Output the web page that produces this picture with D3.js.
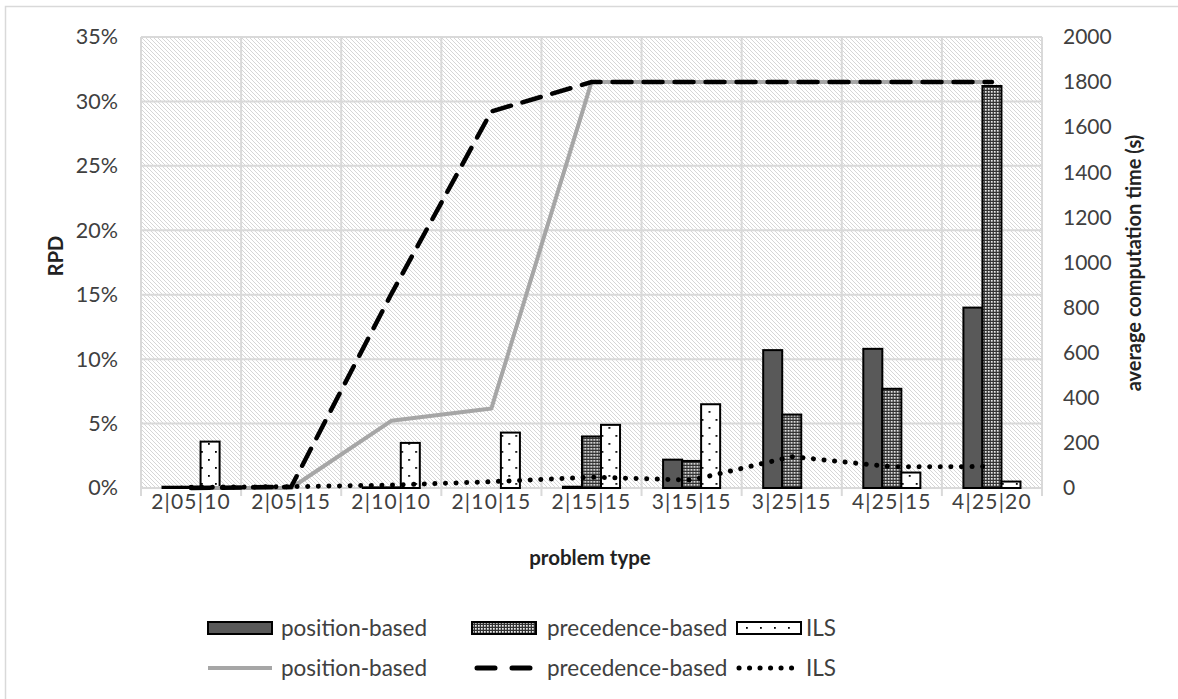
<!DOCTYPE html>
<html>
<head>
<meta charset="utf-8">
<script src="https://cdn.jsdelivr.net/npm/d3@7"></script>
<style>
  html, body { margin: 0; padding: 0; background: #fff; }
  svg { display: block; }
  text { font-family: Lato, "Open Sans", sans-serif; }
</style>
</head>
<body>
<svg id="chart" width="1178" height="699"></svg>
<script>
// ---- data ----
const categories = ["2|05|10", "2|05|15", "2|10|10", "2|10|15", "2|15|15", "3|15|15", "3|25|15", "4|25|15", "4|25|20"];
const barSeries = ["position-based", "precedence-based", "ILS"];
// RPD (%) bars
const rpdPosition   = [0.1, 0, 0.05, 0, 0.1, 2.2, 10.7, 10.8, 14.0];
const rpdPrecedence = [0.1, 0, 0.05, 0, 4.0, 2.1, 5.7, 7.7, 31.2];
const rpdILS        = [3.6, 0, 3.5, 4.3, 4.9, 6.5, 0, 1.2, 0.5];
// average computation time (s) lines
const timePosition   = [0, 0, 298, 353, 1800, 1800, 1800, 1800, 1800];
const timePrecedence = [0, 5, 860, 1670, 1800, 1800, 1800, 1800, 1800];
const timeILS        = [3, 6, 13, 28, 48, 35, 139, 94, 95];
// ticks
const leftTicks  = [0, 5, 10, 15, 20, 25, 30, 35];
const rightTicks = [0, 200, 400, 600, 800, 1000, 1200, 1400, 1600, 1800, 2000];

// ---- layout ----
const svg = d3.select("#chart");
const plot = { left: 141, right: 1042, top: 37, bottom: 488 };

const x = d3.scaleBand().domain(categories).range([plot.left, plot.right]).padding(0);
const bw = x.bandwidth();
const x1 = d3.scaleBand().domain(barSeries).range([bw * 0.215, bw * 0.785]).padding(0);
const yL = d3.scaleLinear().domain([0, 35]).range([plot.bottom, plot.top]);
const yR = d3.scaleLinear().domain([0, 2000]).range([plot.bottom, plot.top]);

// ---- patterns ----
const defs = svg.append("defs");
const hatch = defs.append("pattern").attr("id", "hatch").attr("patternUnits", "userSpaceOnUse")
  .attr("width", 4).attr("height", 4);
hatch.append("rect").attr("width", 4).attr("height", 4).attr("fill", "#fff");
hatch.append("path").attr("d", "M-1,-1 L5,5 M-1,3 L1,5 M3,-1 L5,1")
  .attr("stroke", "#d6d6d6").attr("stroke-width", 1);

const mesh = defs.append("pattern").attr("id", "mesh").attr("patternUnits", "userSpaceOnUse")
  .attr("width", 3).attr("height", 3);
mesh.append("rect").attr("width", 3).attr("height", 3).attr("fill", "#333");
mesh.append("rect").attr("x", 1).attr("y", 1).attr("width", 1.7).attr("height", 1.7).attr("fill", "#eee");

const dots = defs.append("pattern").attr("id", "dots").attr("patternUnits", "userSpaceOnUse")
  .attr("width", 14).attr("height", 16);
dots.append("rect").attr("width", 14).attr("height", 16).attr("fill", "#fff");
dots.append("rect").attr("x", 4).attr("y", 3).attr("width", 1.8).attr("height", 1.8).attr("fill", "#000");
dots.append("rect").attr("x", 11).attr("y", 11).attr("width", 1.8).attr("height", 1.8).attr("fill", "#000");

const fills = { "position-based": "#595959", "precedence-based": "url(#mesh)", "ILS": "url(#dots)" };

// ---- outer border ----
svg.append("rect").attr("x", 5.5).attr("y", 6.5).attr("width", 1200).attr("height", 720)
  .attr("fill", "#fff").attr("stroke", "#d9d9d9").attr("stroke-width", 1.5);

// ---- plot background ----
svg.append("rect").attr("x", plot.left).attr("y", plot.top)
  .attr("width", plot.right - plot.left).attr("height", plot.bottom - plot.top)
  .attr("fill", "url(#hatch)");

// gridlines
svg.append("g").selectAll("line").data(leftTicks).join("line")
  .attr("x1", plot.left).attr("x2", plot.right)
  .attr("y1", d => yL(d)).attr("y2", d => yL(d))
  .attr("stroke", "#d9d9d9").attr("stroke-width", 2);
const vBounds = categories.map(c => x(c)).concat([plot.right]);
svg.append("g").selectAll("line").data(vBounds).join("line")
  .attr("x1", d => d).attr("x2", d => d)
  .attr("y1", plot.top).attr("y2", plot.bottom + 8)
  .attr("stroke", "#d9d9d9").attr("stroke-width", 2);

// ---- axes ----
const axL = d3.axisLeft(yL).tickValues(leftTicks).tickFormat(d => d + "%").tickSize(0).tickPadding(23);
const gL = svg.append("g").attr("transform", `translate(${plot.left},0)`).call(axL);
gL.select(".domain").remove();
gL.selectAll("text").attr("font-size", 21.5).attr("fill", "#404040");

const axR = d3.axisRight(yR).tickValues(rightTicks).tickFormat(d3.format("d")).tickSize(0).tickPadding(21);
const gR = svg.append("g").attr("transform", `translate(${plot.right},0)`).call(axR);
gR.select(".domain").remove();
gR.selectAll("text").attr("font-size", 21).attr("fill", "#404040");

const axB = d3.axisBottom(x).tickSize(0).tickPadding(6);
const gB = svg.append("g").attr("transform", `translate(0,${plot.bottom})`).call(axB);
gB.select(".domain").remove();
gB.selectAll("text").attr("font-size", 21).attr("fill", "#404040").attr("letter-spacing", 1.2);

// axis titles
svg.append("text").attr("transform", "translate(63,256) rotate(-90)")
  .attr("text-anchor", "middle").attr("font-size", 20).attr("font-weight", "bold").attr("fill", "#222").text("RPD");
svg.append("text").attr("transform", "translate(1141,263) rotate(-90)")
  .attr("text-anchor", "middle").attr("font-size", 20).attr("font-weight", "bold").attr("fill", "#222").text("average computation time (s)");
svg.append("text").attr("x", 590).attr("y", 565)
  .attr("text-anchor", "middle").attr("font-size", 20.5).attr("font-weight", "bold").attr("fill", "#222").text("problem type");

// ---- bars ----
const barData = categories.map((c, i) => ({
  cat: c,
  vals: [
    { s: "position-based", v: rpdPosition[i] },
    { s: "precedence-based", v: rpdPrecedence[i] },
    { s: "ILS", v: rpdILS[i] }
  ]
}));
svg.append("g").selectAll("g").data(barData).join("g")
  .attr("transform", d => `translate(${x(d.cat)},0)`)
  .selectAll("rect").data(d => d.vals.filter(e => e.v > 0)).join("rect")
  .attr("x", d => x1(d.s)).attr("width", x1.bandwidth())
  .attr("y", d => yL(d.v)).attr("height", d => yL(0) - yL(d.v))
  .attr("fill", d => fills[d.s]).attr("stroke", "#000").attr("stroke-width", 2);

// ---- lines ----
const cx = c => x(c) + bw / 2;
const lineGen = arr => d3.line().x((d, i) => cx(categories[i])).y(d => yR(d))(arr);

svg.append("path").attr("d", lineGen(timePosition)).attr("fill", "none")
  .attr("stroke", "#a6a6a6").attr("stroke-width", 4).attr("stroke-linejoin", "round");
svg.append("path").attr("d", lineGen(timePrecedence)).attr("fill", "none")
  .attr("stroke", "#000").attr("stroke-width", 4.5).attr("stroke-dasharray", "19,12").attr("stroke-linecap", "round");
svg.append("path").attr("d", lineGen(timeILS)).attr("fill", "none")
  .attr("stroke", "#000").attr("stroke-width", 5).attr("stroke-dasharray", "0.1,10.5").attr("stroke-linecap", "round");

// ---- legend ----
const legend = svg.append("g");
const row1 = 628, row2 = 668;
const legX = [208, 472, 737];
const legTextX = [281, 547, 806];
barSeries.forEach((s, i) => {
  legend.append("rect").attr("x", legX[i]).attr("y", row1 - 6).attr("width", 64).attr("height", 12)
    .attr("fill", fills[s]).attr("stroke", "#000").attr("stroke-width", 2);
  legend.append("text").attr("x", legTextX[i]).attr("y", row1).attr("dy", "0.35em")
    .attr("font-size", 22.5).attr("fill", "#404040").text(s);
});
const lineStyles = [
  { stroke: "#a6a6a6", dash: null, cap: "butt", w: 4, x0: 0, x1: 64 },
  { stroke: "#000", dash: "18,17", cap: "round", w: 5, x0: 5, x1: 58 },
  { stroke: "#000", dash: "0.1,10.4", cap: "round", w: 5, x0: 2, x1: 64 }
];
barSeries.forEach((s, i) => {
  const st = lineStyles[i];
  legend.append("line").attr("x1", legX[i] + st.x0).attr("x2", legX[i] + st.x1).attr("y1", row2).attr("y2", row2)
    .attr("stroke", st.stroke).attr("stroke-width", st.w).attr("stroke-linecap", st.cap)
    .attr("stroke-dasharray", st.dash);
  legend.append("text").attr("x", legTextX[i]).attr("y", row2).attr("dy", "0.35em")
    .attr("font-size", 22.5).attr("fill", "#404040").text(s);
});
</script>
</body>
</html>
